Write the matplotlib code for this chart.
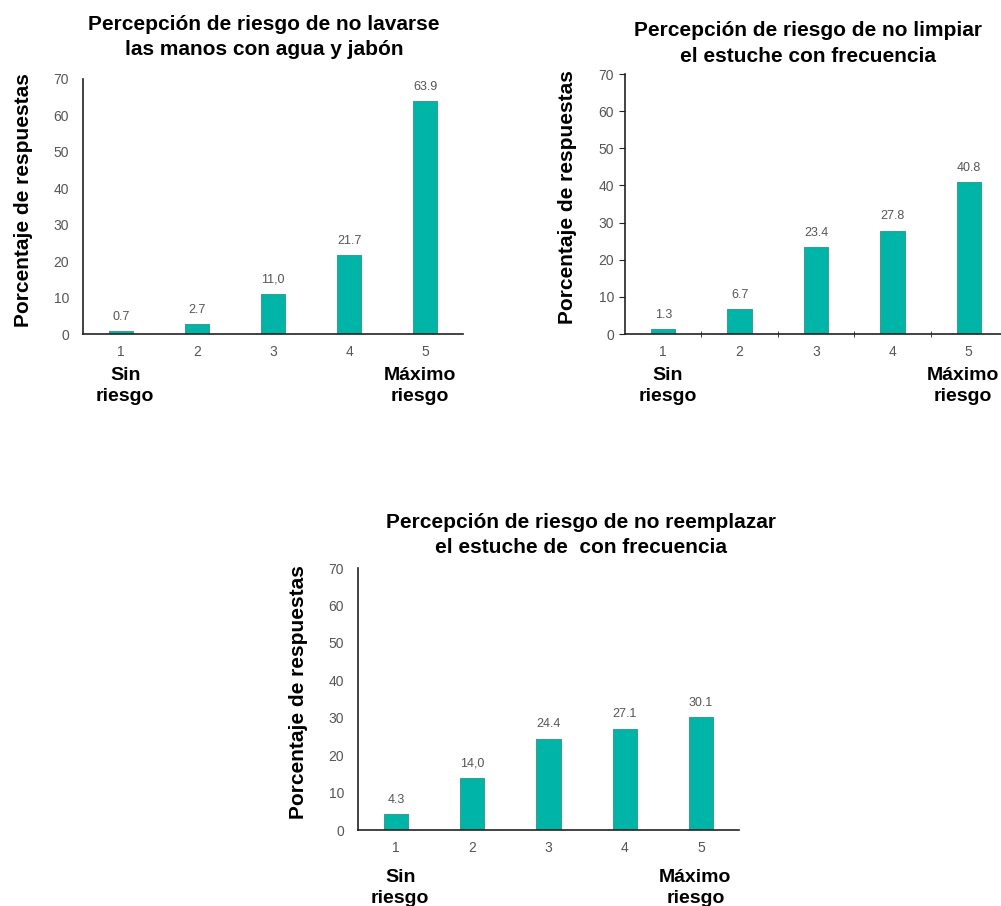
import numpy as np
import matplotlib
matplotlib.use('Agg')
import matplotlib.pyplot as plt

plt.rcParams['font.family'] = ['Liberation Sans', 'DejaVu Sans']

# Data
categories = [1, 2, 3, 4, 5]
lavarse = [0.7, 2.7, 11.0, 21.7, 63.9]
limpiar = [1.3, 6.7, 23.4, 27.8, 40.8]
reemplazar = [4.3, 14.0, 24.4, 27.1, 30.1]
labels_lavarse = ['0.7', '2.7', '11,0', '21.7', '63.9']
labels_limpiar = ['1.3', '6.7', '23.4', '27.8', '40.8']
labels_reemplazar = ['4.3', '14,0', '24.4', '27.1', '30.1']
titles = ['Percepción de riesgo de no lavarse\nlas manos con agua y jabón',
          'Percepción de riesgo de no limpiar\nel estuche con frecuencia',
          'Percepción de riesgo de no reemplazar\nel estuche de  con frecuencia']
ylabel = 'Porcentaje de respuestas'

BAR = '#00B5A7'
EDGE = '#3f9c91'
GRAY = '#555555'

W, H = 1001, 906
fig = plt.figure(figsize=(W / 100, H / 100), dpi=100)


def px_axes(left, right, y0, y70):
    # pixel coords (from top) -> figure fraction
    return fig.add_axes([left / W, 1 - y0 / H, (right - left) / W, (y0 - y70) / H])


def panel(ax, values, labels, title, title_x, title_pad, ylab_x,
          minor_ticks=False, end_dy=-24):
    ax.bar(categories, values, width=0.32, color=BAR, edgecolor=EDGE, linewidth=0.8)
    for x, v, t in zip(categories, values, labels):
        ax.annotate(t, (x, v), xytext=(0, 6), textcoords='offset points',
                    ha='center', va='bottom', fontsize=9, color=GRAY)
    ax.set_xlim(0.5, 5.5)
    ax.set_ylim(0, 70)
    ax.set_yticks(range(0, 71, 10))
    ax.set_xticks(categories)
    for s in ['top', 'right']:
        ax.spines[s].set_visible(False)
    for s in ['left', 'bottom']:
        ax.spines[s].set_color('#222222')
        ax.spines[s].set_linewidth(1.2)
    if minor_ticks:
        ax.set_xticks([1.5, 2.5, 3.5, 4.5], minor=True)
        ax.tick_params(axis='x', which='minor', length=4, direction='inout', color='#222222')
        ax.tick_params(axis='y', length=4, color='#222222', pad=4)
        ax.tick_params(axis='x', which='major', length=0, pad=8)
    else:
        ax.tick_params(axis='y', length=0, pad=10)
        ax.tick_params(axis='x', length=0, pad=8)
    ax.tick_params(labelsize=10, labelcolor=GRAY)
    ax.set_title(title, fontsize=15, fontweight='bold', pad=title_pad, linespacing=1.4)
    ax.title.set_position((title_x, 1.0))
    ax.set_ylabel(ylabel, fontsize=15, fontweight='bold')
    ax.yaxis.set_label_coords(ylab_x, 0.525)

    # endpoint annotations under the x axis
    ax.annotate('Sin\nriesgo', (1, 0), xycoords=('data', 'axes fraction'),
                xytext=(3, end_dy), textcoords='offset points', ha='center', va='top',
                fontsize=14, fontweight='bold', linespacing=1.3, annotation_clip=False)
    ax.annotate('Máximo\nriesgo', (5, 0), xycoords=('data', 'axes fraction'),
                xytext=(-4, end_dy), textcoords='offset points', ha='center', va='top',
                fontsize=14, fontweight='bold', linespacing=1.3, annotation_clip=False)


ax1 = px_axes(83, 463, 334, 79)
panel(ax1, lavarse, labels_lavarse, titles[0], 0.476, 17, -0.131)

ax2 = px_axes(625, 1007, 334, 74)
panel(ax2, limpiar, labels_limpiar, titles[1], 0.479, 9, -0.126, minor_ticks=True)

ax3 = px_axes(358, 739, 830, 568)
panel(ax3, reemplazar, labels_reemplazar, titles[2], 0.585, 11, -0.131, end_dy=-28)

fig.savefig('out.png', dpi=100)
